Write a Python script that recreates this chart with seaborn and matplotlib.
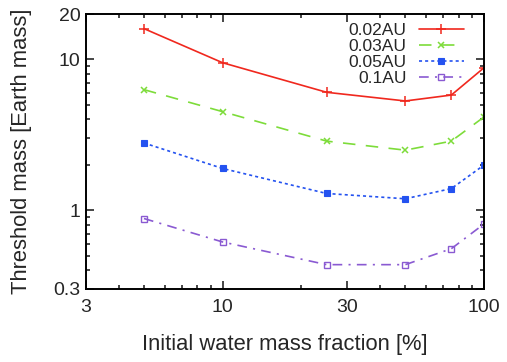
import pandas as pd
import matplotlib
matplotlib.use("Agg")
import matplotlib.pyplot as plt
import matplotlib.ticker as ticker
import seaborn as sns

# =========================
# data
# =========================
water_frac = [5, 10, 25, 50, 75, 100]
labels = ["0.02AU", "0.03AU", "0.05AU", "0.1AU"]
mass_002 = [16.0, 9.5, 6.05, 5.3, 5.8, 8.8]
mass_003 = [6.3, 4.5, 2.87, 2.5, 2.87, 4.15]
mass_005 = [2.79, 1.89, 1.29, 1.19, 1.39, 1.99]
mass_01 = [0.88, 0.615, 0.435, 0.435, 0.555, 0.81]

x_ticks = [3, 10, 30, 100]
y_ticks = [0.3, 1, 10, 20]

df = pd.DataFrame({
    "frac": water_frac * 4,
    "mass": mass_002 + mass_003 + mass_005 + mass_01,
    "orbit": [l for l in labels for _ in water_frac],
})

# =========================
# style
# =========================
sns.set_style("ticks")
plt.rcParams["font.family"] = ["Liberation Sans", "DejaVu Sans"]
plt.rcParams["lines.scale_dashes"] = False

styles = {
    "0.02AU": dict(color="#f0281e", marker="+", ms=7, mew=1.1, ls="-"),
    "0.03AU": dict(color="#7ddc3a", marker="x", ms=5, mew=1.1, dashes=(9, 7.5)),
    "0.05AU": dict(color="#2452f0", marker="s", ms=4.5, mew=0.8, dashes=(2.2, 2.2)),
    "0.1AU": dict(color="#8a5ad2", marker="s", ms=5, mew=1.0, mfc="none",
                  dashes=(7, 4.5, 1.5, 4.5)),
}

fig = plt.figure(figsize=(5.07, 3.62), dpi=100)
ax = fig.add_axes([0.1696, 0.2017, 0.785, 0.7596])

for lab in labels:
    st = dict(styles[lab])
    dashes = st.pop("dashes", None)
    sub = df[df["orbit"] == lab]
    sns.lineplot(data=sub, x="frac", y="mass", ax=ax, errorbar=None, lw=1.2,
                 label=lab, mec=st["color"], **st)
    if dashes is not None:
        ax.lines[-1].set_dashes(dashes)

ax.set_xscale("log")
ax.set_yscale("log")
ax.set_xlim(3, 100)
ax.set_ylim(0.3, 20)

ax.xaxis.set_major_locator(ticker.FixedLocator(x_ticks))
ax.xaxis.set_major_formatter(ticker.FixedFormatter([str(v) for v in x_ticks]))
ax.xaxis.set_minor_locator(ticker.LogLocator(subs=range(2, 10)))
ax.xaxis.set_minor_formatter(ticker.NullFormatter())
ax.yaxis.set_major_locator(ticker.FixedLocator(y_ticks))
ax.yaxis.set_major_formatter(ticker.FixedFormatter(["0.3", "1", "10", "20"]))
ax.yaxis.set_minor_locator(ticker.LogLocator(subs=range(2, 10)))
ax.yaxis.set_minor_formatter(ticker.NullFormatter())

ax.tick_params(which="both", direction="in", top=True, right=True, width=1.2,
               labelsize=14)
ax.tick_params(axis="x", pad=7)
ax.tick_params(axis="y", pad=4)
ax.tick_params(which="major", length=6)
ax.tick_params(which="minor", length=3)
for sp in ax.spines.values():
    sp.set_linewidth(1.4)
    sp.set_color("black")

ax.set_xlabel("Initial water mass fraction [%]", fontsize=15.8)
ax.set_ylabel("Threshold mass [Earth mass]", fontsize=15.8)
ax.xaxis.set_label_coords(0.5, -0.162)
ax.yaxis.set_label_coords(-0.136, 0.5)

leg = ax.legend(loc="upper right", bbox_to_anchor=(1.0, 1.04), frameon=False,
                markerfirst=False, fontsize=12.5, handlelength=2.6,
                labelspacing=0.05, handletextpad=0.7, borderaxespad=0.75)
for h, lab in zip(leg.legend_handles, labels):
    d = styles[lab].get("dashes")
    if d is not None:
        h.set_dashes(d)

fig.savefig("out.png", dpi=100)
